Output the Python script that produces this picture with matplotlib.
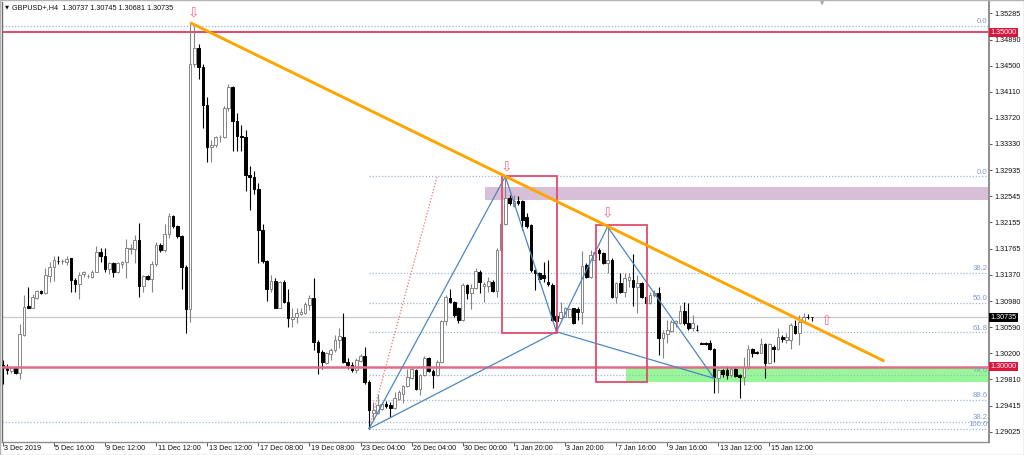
import matplotlib
matplotlib.use('Agg')
import matplotlib.pyplot as plt
import matplotlib.transforms as mtransforms
from matplotlib.patches import Rectangle

# ---------------- data ----------------
title_text = "GBPUSD+,H4  1.30737 1.30745 1.30681 1.30735"

opens = [1.3002, 1.2998, 1.2993, 1.2998, 1.2991, 1.3047, 1.30905, 1.3088, 1.3102, 1.3113,
         1.31095, 1.3136, 1.31495, 1.31585, 1.3158, 1.3156, 1.3162, 1.31295, 1.3123, 1.3138,
         1.31355, 1.31335, 1.3142, 1.3171, 1.3166, 1.3146, 1.31545, 1.3141, 1.3154, 1.3156,
         1.3176, 1.3176, 1.31895, 1.3121, 1.31355, 1.3131, 1.3153, 1.3182, 1.31745, 1.31985,
         1.32245, 1.32095, 1.3196, 1.31485, 1.3086, 1.3453, 1.3477, 1.3448, 1.3392, 1.33285,
         1.3331, 1.3343, 1.3343, 1.3387, 1.3418, 1.3367, 1.33445, 1.3343, 1.3286, 1.3283,
         1.3266, 1.32045, 1.3158, 1.3116, 1.3128, 1.3088, 1.3127, 1.3096, 1.3071, 1.30745,
         1.3078, 1.30795, 1.3092, 1.3103, 1.3036, 1.3022, 1.3006, 1.3018, 1.30245, 1.30395,
         1.30445, 1.3007, 1.3003, 1.29945, 1.3008, 1.3016, 1.2977, 1.2931, 1.2931, 1.2936,
         1.29445, 1.2942, 1.2938, 1.2952, 1.29595, 1.2971, 1.2983, 1.29945, 1.2966, 1.2987,
         1.3013, 1.2993, 1.2987, 1.3007, 1.3068, 1.3103, 1.3096, 1.3088, 1.30695, 1.3122,
         1.31095, 1.3118, 1.3142, 1.3121, 1.3121, 1.3127, 1.3113, 1.31745, 1.3213, 1.3252,
         1.32395, 1.3248, 1.3248, 1.3223, 1.3211, 1.31445, 1.31395, 1.3137, 1.3127, 1.3122,
         1.30755, 1.3072, 1.30745, 1.30745, 1.3087, 1.3086, 1.3082, 1.3152, 1.31345, 1.31595,
         1.31745, 1.31695, 1.31545, 1.31595, 1.31045, 1.31245, 1.3112, 1.31295, 1.31295, 1.31185,
         1.31245, 1.31035, 1.30955, 1.3107, 1.31105, 1.3042, 1.30485, 1.30535, 1.30645, 1.30645,
         1.30835, 1.30645, 1.3057, 1.30545, 1.30345, 1.30345, 1.30345, 1.30255, 1.29835, 1.29945,
         1.29945, 1.2987, 1.2997, 1.2987, 1.29845, 1.29995, 1.30255, 1.3022, 1.30205, 1.30335,
         1.30055, 1.30295, 1.30255, 1.30445, 1.30395, 1.30395, 1.30605, 1.30495, 1.3067, 1.30745,
         1.30737]
highs = [1.30095, 1.30045, 1.29995, 1.29995, 1.3063, 1.3107, 1.31195, 1.3108, 1.31145, 1.31145,
         1.3147, 1.3157, 1.3166, 1.3166, 1.31605, 1.3166, 1.3163, 1.3132, 1.3142, 1.3143,
         1.3138, 1.31445, 1.3181, 1.3178, 1.3177, 1.3157, 1.3157, 1.3157, 1.3158, 1.3191,
         1.3183, 1.3197, 1.32145, 1.3137, 1.3137, 1.3158, 1.3187, 1.31845, 1.3213, 1.32295,
         1.3227, 1.3212, 1.3197, 1.3152, 1.35145, 1.35095, 1.3482, 1.3452, 1.3403, 1.33395,
         1.33445, 1.3346, 1.33895, 1.3423, 1.34195, 1.33795, 1.3362, 1.33545, 1.32995, 1.3292,
         1.32745, 1.3213, 1.31595, 1.3137, 1.3132, 1.3128, 1.31295, 1.3116, 1.3087, 1.3087,
         1.3088, 1.3096, 1.3107, 1.3132, 1.30395, 1.30245, 1.3021, 1.3027, 1.3047, 1.3057,
         1.30795, 1.3012, 1.3007, 1.3012, 1.3018, 1.30295, 1.29795, 1.2947, 1.29595, 1.2947,
         1.2948, 1.2947, 1.2962, 1.29645, 1.2973, 1.2997, 1.2998, 1.2996, 1.29895, 1.3016,
         1.30145, 1.2997, 1.30095, 1.30695, 1.3107, 1.3116, 1.3098, 1.30895, 1.31245, 1.3123,
         1.3123, 1.3148, 1.31445, 1.3127, 1.31345, 1.31295, 1.3177, 1.3216, 1.32845, 1.3257,
         1.3257, 1.32545, 1.32495, 1.32295, 1.3213, 1.3146, 1.3142, 1.3157, 1.31595, 1.31245,
         1.3078, 1.3097, 1.30895, 1.3088, 1.3088, 1.30895, 1.31735, 1.31545, 1.31745, 1.3177,
         1.3177, 1.3172, 1.32095, 1.3162, 1.3127, 1.31395, 1.31395, 1.31395, 1.31685, 1.3137,
         1.3127, 1.31045, 1.3112, 1.31145, 1.31195, 1.30545, 1.30695, 1.30695, 1.30695, 1.3092,
         1.3097, 1.30945, 1.3077, 1.3062, 1.3037, 1.3037, 1.30395, 1.3027, 1.2997, 1.2997,
         1.30005, 1.29995, 1.29995, 1.29895, 1.30145, 1.3032, 1.3027, 1.30235, 1.3042, 1.30345,
         1.30355, 1.3032, 1.3057, 1.3047, 1.30505, 1.30645, 1.30695, 1.3077, 1.30795, 1.3078,
         1.30745]
lows = [1.29745, 1.29895, 1.2991, 1.29895, 1.2982, 1.3046, 1.3087, 1.3087, 1.3101, 1.3108,
        1.3108, 1.3127, 1.3128, 1.3153, 1.3153, 1.3152, 1.3111, 1.3111, 1.3101, 1.31345,
        1.3133, 1.3132, 1.3141, 1.3157, 1.3142, 1.3138, 1.31335, 1.31395, 1.3148, 1.3132,
        1.3168, 1.31545, 1.31045, 1.3112, 1.31295, 1.3111, 1.3151, 1.3171, 1.3171, 1.3192,
        1.3207, 1.3193, 1.3116, 1.30495, 1.3067, 1.3448, 1.34295, 1.3357, 1.3306, 1.3306,
        1.3328, 1.33355, 1.3342, 1.3382, 1.3323, 1.3323, 1.3322, 1.3262, 1.32345, 1.3258,
        1.31545, 1.31545, 1.3098, 1.3112, 1.3087, 1.3087, 1.30945, 1.30595, 1.30595, 1.30645,
        1.3077, 1.3078, 1.30845, 1.30245, 1.29895, 1.2997, 1.30045, 1.30095, 1.3022, 1.3027,
        1.3006, 1.2997, 1.2992, 1.2991, 1.3007, 1.29745, 1.2907, 1.29195, 1.29295, 1.29345,
        1.2938, 1.29245, 1.2936, 1.29495, 1.2946, 1.29695, 1.2982, 1.29645, 1.2958, 1.2986,
        1.2992, 1.2968, 1.2986, 1.3006, 1.3062, 1.30945, 1.30745, 1.30645, 1.3068, 1.3101,
        1.3086, 1.3116, 1.31095, 1.3097, 1.3111, 1.3111, 1.31045, 1.3173, 1.3211, 1.3242,
        1.3238, 1.3242, 1.32045, 1.3207, 1.3142, 1.31145, 1.3127, 1.3127, 1.3121, 1.30685,
        1.3052, 1.30705, 1.30735, 1.3072, 1.30635, 1.30695, 1.30635, 1.3132, 1.3132, 1.31545,
        1.31595, 1.31535, 1.31395, 1.3102, 1.30945, 1.31095, 1.31045, 1.31195, 1.30905, 1.30805,
        1.3102, 1.30945, 1.30935, 1.31045, 1.3017, 1.3012, 1.30345, 1.3052, 1.30595, 1.30635,
        1.3062, 1.30545, 1.30535, 1.30535, 1.3033, 1.3032, 1.30245, 1.2961, 1.2961, 1.29845,
        1.2982, 1.29845, 1.29845, 1.29535, 1.2972, 1.2997, 1.30145, 1.30185, 1.30195, 1.29835,
        1.30045, 1.3007, 1.30245, 1.3037, 1.30345, 1.30255, 1.30485, 1.3032, 1.30645, 1.3071,
        1.30681]
closes = [1.2998, 1.29945, 1.2998, 1.2991, 1.3048, 1.30895, 1.3088, 1.31045, 1.3113, 1.31095,
          1.3137, 1.31495, 1.31595, 1.3158, 1.31585, 1.3161, 1.31295, 1.3123, 1.3137, 1.3141,
          1.3136, 1.3142, 1.3171, 1.3166, 1.3146, 1.31545, 1.3141, 1.31545, 1.3156, 1.3177,
          1.31775, 1.31895, 1.3121, 1.31355, 1.3131, 1.3153, 1.3182, 1.31745, 1.31985, 1.32255,
          1.32095, 1.3196, 1.31485, 1.3086, 1.3453, 1.3477, 1.3448, 1.3392, 1.33285, 1.3332,
          1.3343, 1.3344, 1.3387, 1.3418, 1.3367, 1.33445, 1.3343, 1.3286, 1.3283, 1.3266,
          1.32045, 1.3158, 1.3116, 1.3128, 1.3088, 1.3127, 1.3096, 1.3072, 1.30745, 1.30795,
          1.3081, 1.3093, 1.3103, 1.3036, 1.3022, 1.3007, 1.30195, 1.30245, 1.30395, 1.3046,
          1.3007, 1.3003, 1.29945, 1.30095, 1.3016, 1.2977, 1.29345, 1.29345, 1.2943, 1.29445,
          1.2941, 1.2938, 1.2953, 1.2962, 1.2971, 1.29845, 1.2996, 1.2967, 1.2988, 1.3013,
          1.2993, 1.2987, 1.3007, 1.3068, 1.31045, 1.3096, 1.3077, 1.30695, 1.3122, 1.31095,
          1.3118, 1.3143, 1.3127, 1.3123, 1.3128, 1.3113, 1.31745, 1.3213, 1.3252, 1.32445,
          1.3248, 1.32445, 1.32195, 1.32095, 1.31445, 1.31395, 1.3131, 1.3133, 1.31235, 1.30695,
          1.30685, 1.3082, 1.3087, 1.3086, 1.30645, 1.3082, 1.31505, 1.31345, 1.3167, 1.3172,
          1.31695, 1.31545, 1.31595, 1.31045, 1.31245, 1.3112, 1.3132, 1.31335, 1.31195, 1.31245,
          1.31035, 1.30955, 1.3107, 1.31105, 1.3042, 1.30495, 1.30545, 1.3067, 1.30685, 1.30835,
          1.30645, 1.3057, 1.30645, 1.3054, 1.3034, 1.3034, 1.30255, 1.29845, 1.29945, 1.29895,
          1.2987, 1.2997, 1.29855, 1.29845, 1.29995, 1.30255, 1.30205, 1.30195, 1.30335, 1.30055,
          1.30335, 1.30255, 1.30445, 1.3041, 1.30445, 1.3062, 1.30495, 1.3067, 1.30745, 1.3074,
          1.30735]

date_labels = ["3 Dec 2019", "5 Dec 16:00", "9 Dec 12:00", "11 Dec 12:00", "13 Dec 12:00",
               "17 Dec 08:00", "19 Dec 08:00", "23 Dec 04:00", "26 Dec 04:00", "30 Dec 00:00",
               "1 Jan 20:00", "3 Jan 20:00", "7 Jan 16:00", "9 Jan 16:00", "13 Jan 12:00",
               "15 Jan 12:00"]
date_label_bars = [0, 12, 24, 36, 48, 60, 72, 84, 96, 108, 120, 132, 144, 156, 168, 180]

price_ticks = [1.35285, 1.34890, 1.34500, 1.34110, 1.33720, 1.33330, 1.32935, 1.32545,
               1.32155, 1.31765, 1.31370, 1.30980, 1.30590, 1.30200, 1.29810, 1.29415, 1.29025]

# horizontal levels
level_red_top = 1.35000
level_red_bottom = 1.30000
bid_price = 1.30735

# big fib (only two levels visible)
big_fib_levels = [("0.0", 1.3510), ("38.2", 1.2917)]
# small fib drawn from X (low) to A (high)
fib_start_bar, fib_end_bar = 86, 102
fib_low, fib_high = 1.2907, 1.32845
fib_ratios = [0.0, 38.2, 50.0, 61.8, 78.6, 88.6, 100.0]

# orange trendline points (bar, price)
trend_bars = [44, 207]
trend_prices = [1.35145, 1.3008]

# harmonic pattern points X, A, B, C, D (bar, price)
pat_bars = [86, 118, 130, 142, 167]
pat_prices = [1.2907, 1.32845, 1.3052, 1.32091, 1.29823]

# rectangles: (bar0, bar1, price_low, price_high)
rects = [(117.1, 130.1, 1.30500, 1.32845), (139.2, 151.2, 1.29773, 1.32112)]
# zones: (start bar, price_low, price_high)
purple_zone = (113.2, 1.32491, 1.32681)
green_zone = (146.3, 1.29773, 1.29988)

# arrows: (bar, price, symbol)
arrows = [(44.7, 1.3530, "\u21e9"), (118.2, 1.3300, "\u21e9"), (141.9, 1.3231, "\u21e9"),
          (193.3, 1.3068, "\u21e7")]

# ---------------- figure ----------------
W, H = 1024, 455
fig = plt.figure(figsize=(W / 100, H / 100), dpi=100)
fig.patch.set_facecolor('white')
ax = fig.add_axes([2.3 / W, (H - 441.5) / H, (989 - 2.3) / W, (441.5 - 2) / H])
ax.set_facecolor('white')

XMIN, XMAX = -0.1, 231.55
YMIN, YMAX = 1.28878, 1.35454
ax.set_xlim(XMIN, XMAX)
ax.set_ylim(YMIN, YMAX)

FONT = 'Liberation Sans'
FS = 5.2
TXT = '#101010'

# zones
ax.add_patch(Rectangle((purple_zone[0], purple_zone[1]), XMAX - purple_zone[0],
                       purple_zone[2] - purple_zone[1], facecolor='#D8BFD8', edgecolor='none', zorder=1))
ax.add_patch(Rectangle((green_zone[0], green_zone[1]), XMAX - green_zone[0],
                       green_zone[2] - green_zone[1], facecolor='#98F898', edgecolor='none', zorder=1))

fib_color = '#9DB6DC'
fib_text = '#7F9CCB'
trans_ax_data = mtransforms.blended_transform_factory(ax.transAxes, ax.transData)

# big fib lines
for lab, p in big_fib_levels:
    ax.plot([XMIN, XMAX], [p, p], color=fib_color, lw=0.9, ls=(0, (1, 1.5)), zorder=1.5)
    ax.text(0.9985, p + 0.0001, lab, transform=trans_ax_data, ha='right', va='bottom',
            fontsize=5.6, color=fib_text, family=FONT, zorder=8)

# small fib
rng = fib_high - fib_low
for r in fib_ratios:
    p = fib_high - rng * r / 100.0
    ax.plot([fib_start_bar, XMAX], [p, p], color=fib_color, lw=0.9, ls=(0, (1, 1.5)), zorder=1.5)
    ax.text(0.9985, p + 0.0001, f"{r:.1f}", transform=trans_ax_data, ha='right', va='bottom',
            fontsize=5.6, color=fib_text, family=FONT, zorder=8)
ax.plot([fib_start_bar, fib_end_bar], [fib_low, fib_high], color='#F07070', lw=0.9,
        ls=(0, (1, 1.5)), zorder=1.6)

# bid line
ax.axhline(bid_price, color='#C8C8C8', lw=0.9, zorder=1.7)
# red levels
ax.axhline(level_red_top, color='#DC143C', lw=1.1, zorder=2)

# candles
bull_edge = '#858585'
for i, (o, h, l, c) in enumerate(zip(opens, highs, lows, closes)):
    bull = c >= o
    col = bull_edge if bull else 'black'
    ax.vlines(i, l, h, color=col, lw=0.8, zorder=3)
    lo, hi = min(o, c), max(o, c)
    hgt = max(hi - lo, 0.00002)
    ax.bar(i, hgt, bottom=lo, width=0.62, facecolor='white' if bull else 'black',
           edgecolor=col, linewidth=0.7, zorder=3.5)

ax.axhline(level_red_bottom, color='#E56A88', lw=1.8, zorder=4)

# harmonic pattern lines
X, A, B, C, D = list(zip(pat_bars, pat_prices))
blue = '#4B87C2'
for p1, p2 in [(X, A), (A, B), (X, B), (B, C), (C, D), (B, D)]:
    ax.plot([p1[0], p2[0]], [p1[1], p2[1]], color=blue, lw=0.9, zorder=5)

# rectangles
for b0, b1, plo, phi in rects:
    ax.add_patch(Rectangle((b0, plo), b1 - b0, phi - plo, facecolor='none',
                           edgecolor='#E04C6C', lw=1.3, zorder=6))

# orange trendline
ax.plot(trend_bars, trend_prices, color='#FFA500', lw=2.1, zorder=6.5, solid_capstyle='butt')

# arrows
for b, p, s in arrows:
    ax.text(b, p, s, ha='center', va='center', fontsize=10, color='#F0708C',
            family='DejaVu Sans', zorder=7)

# axes styling
ax.spines['top'].set_visible(False)
ax.spines['left'].set_color('#6E6E6E')
ax.spines['left'].set_linewidth(1.0)
ax.spines['right'].set_color('#8E8E8E')
ax.spines['right'].set_linewidth(1.4)
ax.spines['bottom'].set_color('#8E8E8E')
ax.spines['bottom'].set_linewidth(1.0)

ax.yaxis.tick_right()
ax.set_yticks(price_ticks)
ax.set_yticklabels([f"{v:.5f}" for v in price_ticks], fontsize=FS, family=FONT, color=TXT)
ax.tick_params(axis='y', direction='out', length=2.5, width=0.7, color='#555555', pad=1.5)

ax.set_xticks(date_label_bars)
ax.set_xticklabels([])
ax.tick_params(axis='x', direction='out', length=3, width=0.7, color='#555555')
trans_data_ax = mtransforms.blended_transform_factory(ax.transData, ax.transAxes)
for b, lab in zip(date_label_bars, date_labels):
    ax.text(b + 0.35, -0.0085, lab, transform=trans_data_ax, ha='left', va='top',
            fontsize=FS, family=FONT, color=TXT, clip_on=False)

# price label boxes on axis
for p, txt, bg in [(level_red_top, "1.35000", '#DC143C'), (bid_price, "1.30735", 'black'),
                   (level_red_bottom, "1.30000", '#DC143C')]:
    ax.text(1.0012, p, txt, transform=trans_ax_data, ha='left', va='center', fontsize=FS,
            family=FONT, color='white', clip_on=False, zorder=10,
            bbox=dict(boxstyle='square,pad=0.18', facecolor=bg, edgecolor='none'))

# title
fig.text(4.5 / W, 1 - 7.2 / H, "\u25bc", fontsize=3.8, family='DejaVu Sans', color=TXT,
         ha='left', va='center')
fig.text(12.3 / W, 1 - 7.2 / H, title_text, fontsize=FS, family=FONT, color=TXT,
         ha='left', va='center')

# chart shift marker at top
fig.text(822 / W, 1 - 3.5 / H, "\u25bc", fontsize=4, family='DejaVu Sans', color='#A8A8A8',
         ha='center', va='center')

# figure border
fig.add_artist(Rectangle((0, 0), 1, 1, transform=fig.transFigure, fill=False,
                         edgecolor='#B4B4B4', lw=1.0))

fig.savefig('out.png', dpi=100, facecolor='white')
